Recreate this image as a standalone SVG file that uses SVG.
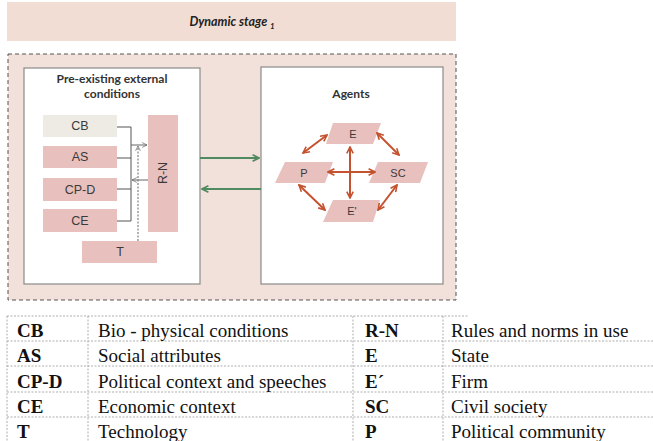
<svg xmlns="http://www.w3.org/2000/svg" width="653" height="441" viewBox="0 0 653 441">
<style>
.box{fill:#e8c0bd}
.lbl{font-family:"Liberation Sans",Arial,sans-serif;font-size:12.5px;fill:#3a3a3a;text-anchor:middle;dominant-baseline:central}
.plbl{font-family:"Liberation Sans",Arial,sans-serif;font-size:11px;fill:#3a3a3a;text-anchor:middle;dominant-baseline:central}
.hd{font-family:Lato,"Open Sans",sans-serif;font-weight:bold;font-size:12px;fill:#333;text-anchor:middle}
.grid{stroke:#9a9a9a;stroke-width:0.8;stroke-dasharray:2 1.5;fill:none}
.red{stroke:#c4522f;stroke-width:2;fill:none;marker-start:url(#rh);marker-end:url(#rh)}
.grn{stroke:#4f8a61;stroke-width:1.8;fill:none;marker-end:url(#gh)}
.gry{stroke:#555;stroke-width:1;fill:none}
</style>
<defs>
<marker id="rh" viewBox="0 0 10 10" refX="9" refY="5" markerWidth="8" markerHeight="8" orient="auto-start-reverse" markerUnits="userSpaceOnUse"><path d="M1,1 L9,5 L1,9" fill="none" stroke="#c4522f" stroke-width="2"/></marker>
<marker id="gh" viewBox="0 0 10 10" refX="9" refY="5" markerWidth="8" markerHeight="8" orient="auto" markerUnits="userSpaceOnUse"><path d="M1,1 L9,5 L1,9" fill="none" stroke="#4f8a61" stroke-width="2"/></marker>
<marker id="kh" viewBox="0 0 10 10" refX="9" refY="5" markerWidth="6" markerHeight="6" orient="auto" markerUnits="userSpaceOnUse"><path d="M1,1 L9,5 L1,9" fill="none" stroke="#666" stroke-width="1.2"/></marker>
</defs>

<g id="banner">
<rect x="7" y="2" width="449" height="39" fill="#f2ddd5"/>
<text x="232" y="26" font-family="Lato,'Open Sans',sans-serif" font-weight="bold" font-style="italic" font-size="12.5" fill="#222" text-anchor="middle">Dynamic stage <tspan font-size="8" dy="3">1</tspan></text>
</g>

<g id="stage">
<rect x="8" y="54" width="448" height="246" fill="#f2e0da" stroke="#555" stroke-width="1" stroke-dasharray="4 3"/>
</g>

<g id="external">
<rect x="24" y="68" width="176" height="216" fill="#fff" stroke="#8a8a8a" stroke-width="1.2"/>
<text class="hd" x="112" y="83">Pre-existing external</text>
<text class="hd" x="112" y="98">conditions</text>
</g>

<g id="CB"><rect x="43" y="115" width="74" height="22" fill="#eeebe4"/><text class="lbl" x="80" y="126">CB</text></g>
<g id="AS"><rect class="box" x="43" y="146" width="74" height="22"/><text class="lbl" x="80" y="157">AS</text></g>
<g id="CP-D"><rect class="box" x="43" y="178" width="74" height="23"/><text class="lbl" x="80" y="189.5">CP-D</text></g>
<g id="CE"><rect class="box" x="43" y="209" width="74" height="23"/><text class="lbl" x="80" y="220.5">CE</text></g>
<g id="T"><rect class="box" x="82" y="241" width="75" height="22"/><text class="lbl" x="120" y="252">T</text></g>
<g id="R-N"><rect class="box" x="148" y="115" width="30" height="117"/><text class="lbl" transform="translate(163,173) rotate(-90)" x="0" y="0">R-N</text></g>

<g id="agents">
<rect x="261" y="67" width="182" height="217" fill="#fff" stroke="#8a8a8a" stroke-width="1.2"/>
<text class="hd" x="351" y="98">Agents</text>
</g>

<g id="E"><polygon class="box" points="333,123 381,123 373,144 326,144"/><text class="plbl" x="353" y="134">E</text></g>
<g id="P"><polygon class="box" points="285,162 333,162 325,183 275,183"/><text class="plbl" x="304" y="172.5">P</text></g>
<g id="SC"><polygon class="box" points="378,162 428,162 420,183 369,183"/><text class="plbl" x="398" y="172.5">SC</text></g>
<g id="E2"><polygon class="box" points="333,200 380,200 373,222 323,222"/><text class="plbl" x="352" y="211">E'</text></g>

<g id="connectors">
<path class="gry" d="M117,127 H131 M117,158 H131 M117,189 H131 M117,221 H131 M131,127 V221"/>
<path d="M131,145 H147" stroke="#666" stroke-width="1" fill="none" marker-end="url(#kh)"/>
<path d="M148,180 H132" stroke="#666" stroke-width="1" fill="none" marker-end="url(#kh)"/>
<path d="M138,241 V146" stroke="#666" stroke-width="1" stroke-dasharray="2 1.5" fill="none" marker-end="url(#kh)"/>
<path class="grn" d="M200,158 H259"/>
<path class="grn" d="M261,189 H202"/>
<path class="red" d="M327,135 L303,153"/>
<path class="red" d="M377,133 L399,155"/>
<path class="red" d="M299,185 L325,210"/>
<path class="red" d="M397,185 L378,210"/>
<path class="red" d="M350,147 V198"/>
<path class="red" d="M328,172 H375"/>
</g>

<g id="legend" font-family="'Liberation Serif','Times New Roman','DejaVu Serif',serif" font-size="19" fill="#111">
<path class="grid" d="M7,316 H468 M7,341 H653 M7,366 H653 M7,392 H653 M7,417 H653 M7,316 V441 M88,316 V441 M353,316 V441 M443,316 V441"/>
<g font-weight="bold">
<text x="17" y="337">CB</text>
<text x="17" y="362">AS</text>
<text x="17" y="388">CP-D</text>
<text x="17" y="413">CE</text>
<text x="17" y="438">T</text>
<text x="365" y="337">R-N</text>
<text x="365" y="362">E</text>
<text x="365" y="388">E´</text>
<text x="365" y="413">SC</text>
<text x="365" y="438">P</text>
</g>
<g font-weight="normal">
<text x="98" y="337">Bio - physical conditions</text>
<text x="98" y="362">Social attributes</text>
<text x="98" y="388">Political context and speeches</text>
<text x="98" y="413">Economic context</text>
<text x="98" y="438">Technology</text>
<text x="451" y="337">Rules and norms in use</text>
<text x="451" y="362">State</text>
<text x="451" y="388">Firm</text>
<text x="451" y="413">Civil society</text>
<text x="451" y="438">Political community</text>
</g>
</g>
</svg>
